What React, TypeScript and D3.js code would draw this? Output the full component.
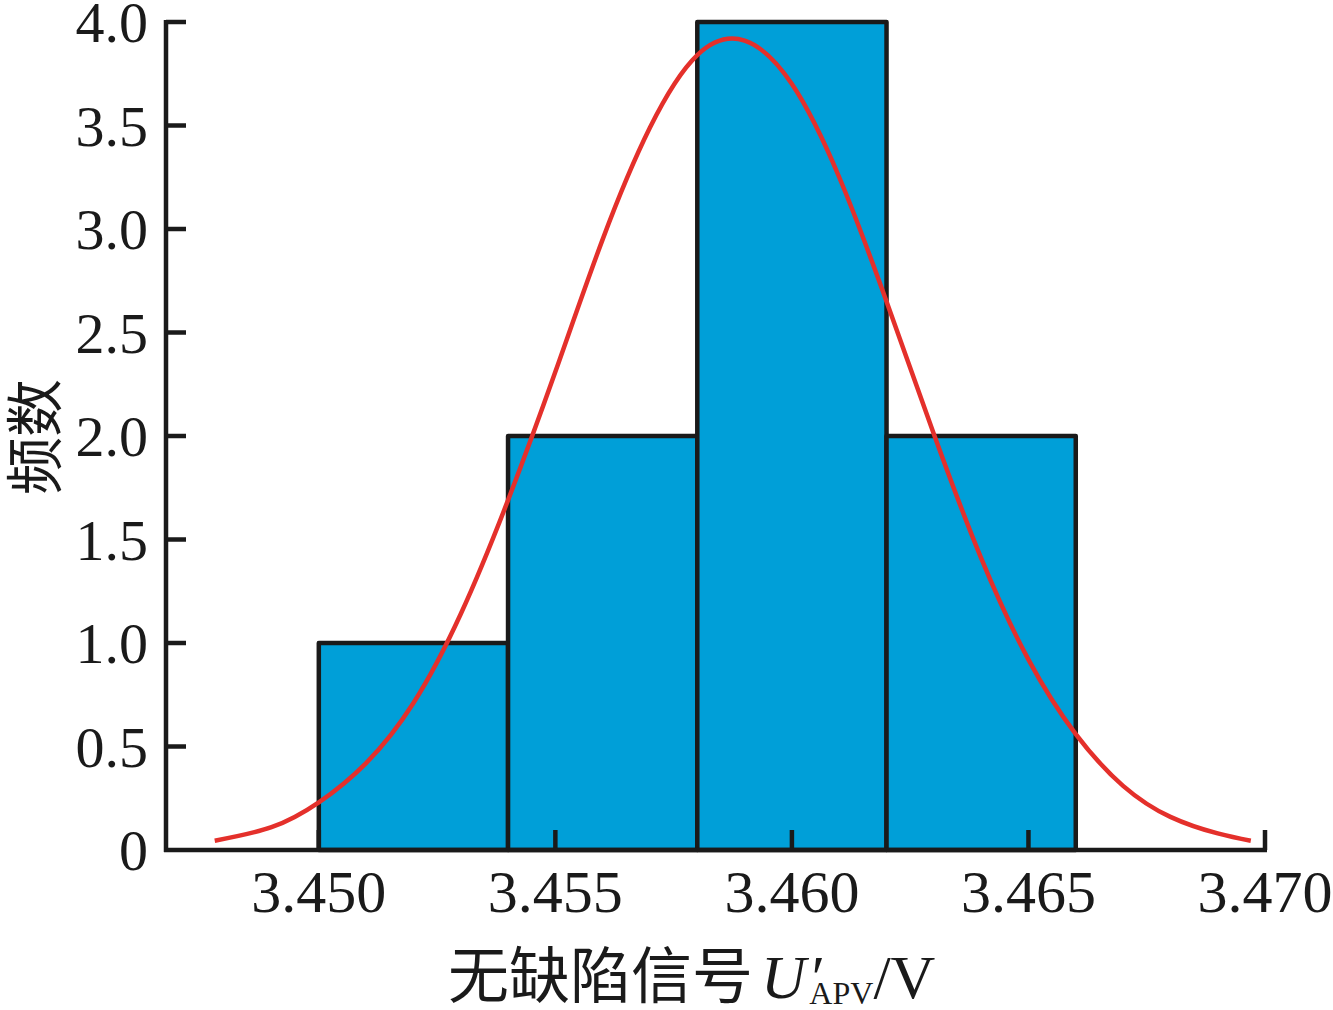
import React, { useEffect, useRef } from 'react';
import * as d3 from 'd3';

// histogram bins (edges) and counts
const binEdges = [3.450, 3.454, 3.458, 3.462, 3.466];
const binCounts = [1, 2, 4, 2];

// fitted normal curve
const curveX = [3.4478, 3.449, 3.450, 3.451, 3.452, 3.453, 3.454, 3.455, 3.456, 3.457, 3.458, 3.459,
  3.460, 3.461, 3.462, 3.463, 3.464, 3.465, 3.466, 3.467, 3.468, 3.469, 3.4697];
const curveY = [0.045, 0.11, 0.23, 0.42, 0.71, 1.14, 1.69, 2.31, 2.95, 3.49, 3.84, 3.91,
  3.70, 3.25, 2.65, 2.01, 1.41, 0.92, 0.56, 0.31, 0.16, 0.08, 0.045];

const xTicks = [3.450, 3.455, 3.460, 3.465, 3.470];
const yTicks = [0, 0.5, 1.0, 1.5, 2.0, 2.5, 3.0, 3.5, 4.0];

const W = 1333;
const H = 1010;

const App: React.FC = () => {
  const svgRef = useRef<SVGSVGElement>(null);

  useEffect(() => {
    document.body.style.margin = "0";
    if (!svgRef.current) return;
    const svg = d3.select(svgRef.current);
    svg.selectAll("*").remove();

    const left = 166, right = 1265, top = 22, bottom = 850;

    const x = d3.scaleLinear().domain([3.44677, 3.470]).range([left, right]);
    const y = d3.scaleLinear().domain([0, 4]).range([bottom, top]);

    const serif = "'Liberation Serif', 'Times New Roman', serif";
    const cjk = "'Noto Sans CJK SC', sans-serif";

    // bars
    binCounts.forEach((c, i) => {
      svg.append("rect")
        .attr("x", x(binEdges[i]))
        .attr("y", y(c))
        .attr("width", x(binEdges[i + 1]) - x(binEdges[i]))
        .attr("height", y(0) - y(c))
        .style("fill", "#009fd8")
        .style("stroke", "#1a1a1a")
        .style("stroke-width", 4.5)
        .style("stroke-linejoin", "round");
    });

    // curve
    const line = d3.line<number>()
      .x((_, i) => x(curveX[i]))
      .y(d => y(d))
      .curve(d3.curveNatural);
    svg.append("path")
      .datum(curveY)
      .attr("d", line)
      .style("fill", "none")
      .style("stroke", "#e4302b")
      .style("stroke-width", 4.5);

    // axes lines
    svg.append("line")
      .attr("x1", left).attr("x2", left)
      .attr("y1", top - 2).attr("y2", bottom + 2)
      .style("stroke", "#1a1a1a").style("stroke-width", 4.5);
    svg.append("line")
      .attr("x1", left - 2).attr("x2", right + 2)
      .attr("y1", bottom).attr("y2", bottom)
      .style("stroke", "#1a1a1a").style("stroke-width", 4.5);

    // y ticks (inward)
    yTicks.forEach(t => {
      if (t > 0) {
        svg.append("line")
          .attr("x1", left).attr("x2", left + 20)
          .attr("y1", y(t)).attr("y2", y(t))
          .style("stroke", "#1a1a1a").style("stroke-width", 4.5);
      }
      svg.append("text")
        .attr("x", 148)
        .attr("y", y(t) + 20)
        .style("text-anchor", "end")
        .style("font-family", serif)
        .style("font-size", "58px")
        .style("fill", "#1a1a1a")
        .text(t === 0 ? "0" : t.toFixed(1));
    });

    // x ticks (inward)
    xTicks.forEach(t => {
      svg.append("line")
        .attr("x1", x(t)).attr("x2", x(t))
        .attr("y1", bottom).attr("y2", bottom - 20)
        .style("stroke", "#1a1a1a").style("stroke-width", 4.5);
      svg.append("text")
        .attr("x", x(t))
        .attr("y", 912)
        .style("text-anchor", "middle")
        .style("font-family", serif)
        .style("font-size", "60px")
        .style("fill", "#1a1a1a")
        .text(t.toFixed(3));
    });

    // y label
    svg.append("text")
      .attr("transform", `translate(56, ${437}) rotate(-90)`)
      .style("text-anchor", "middle")
      .style("font-family", cjk)
      .style("font-size", "58px")
      .style("fill", "#1a1a1a")
      .text("频数");

    // x label
    const xl = svg.append("text")
      .attr("x", 448)
      .attr("y", 998)
      .style("font-family", serif)
      .style("font-size", "62px")
      .style("fill", "#1a1a1a");
    xl.append("tspan").style("font-family", cjk).style("font-size", "61px").text("无缺陷信号");
    xl.append("tspan").style("font-style", "italic").attr("dx", 8).text("U");
    xl.append("tspan").style("font-style", "italic").attr("dx", 2).text("′");
    xl.append("tspan").style("font-size", "32px").attr("dx", -12).attr("dy", 6).text("APV");
    xl.append("tspan").attr("dy", -6).text("/V");
  }, []);

  return (
    <div style={{ position: "absolute", left: 0, top: 0 }}>
      <svg ref={svgRef} width={W} height={H} style={{ background: "#fff", display: "block" }} />
    </div>
  );
};

export default App;
